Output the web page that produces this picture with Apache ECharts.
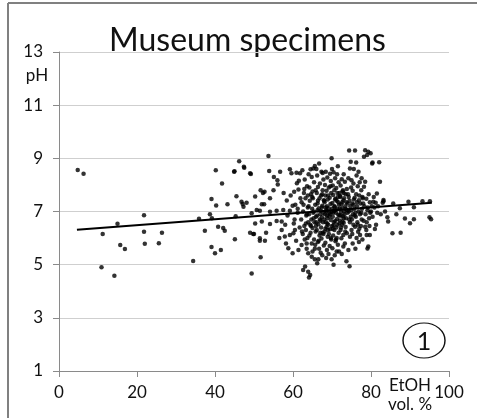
<!DOCTYPE html>
<html>
<head>
<meta charset="utf-8">
<script src="https://cdn.jsdelivr.net/npm/echarts@6/dist/echarts.min.js"></script>
<style>html,body{margin:0;padding:0;background:#fff;}#c{width:477px;height:418px;}</style>
</head>
<body>
<div id="c"></div>
<script>
// EtOH vol. % (x) and pH (y) of museum specimens
const specimens = [
[4.8,8.56],[6.3,8.42],[11.2,6.15],[10.9,4.9],[14.2,4.58],[15.0,6.54],[15.7,5.74],[16.9,5.59],[21.8,6.86],[21.8,6.24],[22.0,5.79],[25.6,5.81],[26.4,6.2],[34.4,5.14],[35.9,6.73],[37.4,6.28],[38.7,6.9],[39.2,6.75],[39.1,7.47],[40.3,7.23],[40.2,8.55],[41.8,8.05],[40.8,6.43],[42.1,6.38],[42.5,6.28],[39.1,5.66],[40.0,5.43],[41.5,5.55],[43.2,7.27],[45.0,8.51],[45.5,7.57],[45.3,6.82],[45.1,5.96],[46.2,8.89],
[47.5,8.65],[49.2,8.41],[53.7,9.09],[53.9,8.52],[55.1,8.3],[56.0,8.18],[56.1,8.02],[51.7,7.8],[52.7,7.74],[52.3,7.7],[50.3,7.56],[48.1,7.33],[47.1,7.28],[52.0,7.27],[52.6,7.27],[54.1,7.5],[57.5,7.06],[50.7,7.06],[51.5,7.03],[54.1,6.99],[55.8,7.03],
[50.3,6.55],[52.0,6.62],[54.1,6.53],[55.8,6.64],[57.1,6.62],[49.0,6.2],[50.0,6.15],[53.1,6.2],[51.5,5.9],[52.8,5.9],[51.7,5.28],[49.4,4.67],[44.9,8.5],[47.4,8.68],[49.0,8.44],[46.8,7.37],[47.3,7.18],[49.4,6.93],[49.8,6.15],[51.5,5.99],
[58.4,7.41],[59.9,7.22],[57.1,6.3],[57.9,6.06],[59.2,6.12],[58.8,5.62],[59.9,5.43],[59.2,8.59],[59.6,8.44],[59.2,7.03],[58.6,6.85],[59.4,7.6],
[60.9,8.46],[61.8,8.44],[61.5,8.16],[61.0,8.06],[60.3,7.74],[61.4,7.83],[60.6,7.25],[61.2,6.95],[60.4,6.7],[61.7,6.4],[60.1,6.18],[61.4,5.55],[60.8,5.9],[61.9,7.5],[60.2,6.55],
[62.4,8.55],[63.6,7.95],[62.8,7.7],[63.2,7.5],[62.2,7.35],[63.8,7.15],[62.6,7.0],[63.4,6.85],[62.1,6.7],[63.9,6.6],[62.9,6.45],[63.3,6.3],[62.5,6.15],[63.7,6.0],[63.5,5.8],[62.2,5.74],[63.9,5.43],[62.6,4.8],[63.1,4.93],[63.9,4.73],[62.9,7.85],[63.6,6.9],[62.3,6.25],[63.0,5.95],[63.8,7.6],
[65.6,8.71],[64.5,8.59],[65.2,8.62],[64.8,8.3],[65.4,8.1],[64.2,7.9],[65.8,7.8],[64.6,7.65],[65.1,7.5],[64.3,7.4],[65.7,7.25],[64.9,7.1],[65.3,7.0],[64.1,6.9],[65.9,6.8],[64.7,6.7],[65.5,6.6],[64.4,6.5],[65.0,6.38],[65.8,6.25],[64.2,6.1],[65.4,5.95],[64.8,5.8],[65.6,5.6],[64.8,5.3],[65.6,5.2],[64.4,4.61],[64.1,4.52],[64.9,7.55],[65.2,6.95],[64.6,6.45],[65.7,5.75],
[66.7,8.81],[67.3,8.5],[66.2,8.35],[67.8,8.2],[66.9,8.05],[66.4,7.92],[67.6,7.8],[66.1,7.7],[67.2,7.6],[66.8,7.5],[67.9,7.42],[66.3,7.3],[67.5,7.22],[66.6,7.12],[67.1,7.03],[67.8,6.95],[66.2,6.85],[67.4,6.78],[66.9,6.7],[67.7,6.6],[66.5,6.52],[67.2,6.4],[66.1,6.3],[67.6,6.2],[66.8,6.1],[67.3,5.98],[66.4,5.85],[67.9,5.72],[66.7,5.6],[67.1,5.45],[66.5,5.2],[67.5,7.65],[66.3,7.05],[67.0,6.65],[67.8,6.15],[66.6,5.9],
[69.9,9.0],[68.4,8.5],[69.5,8.42],[68.8,8.28],[69.7,8.15],[68.2,8.0],[69.2,7.9],[68.6,7.78],[69.8,7.7],[68.3,7.6],[69.4,7.52],[68.9,7.45],[68.1,7.35],[69.6,7.28],[68.7,7.2],[69.1,7.12],[68.5,7.05],[69.9,6.98],[68.2,6.9],[69.3,6.82],[68.8,6.75],[69.7,6.68],[68.4,6.6],[69.0,6.5],[68.6,6.42],[69.5,6.33],[68.1,6.25],[69.2,6.15],[68.9,6.05],[69.8,5.95],[68.3,5.82],[69.4,5.7],[68.7,5.55],[69.1,5.4],[68.5,5.25],[69.6,7.95],[68.0,7.4],[69.3,6.95],[68.8,6.55],[69.7,6.0],[68.4,7.15],
[70.4,8.48],[71.3,8.4],[70.8,8.25],[71.7,8.1],[70.2,7.98],[71.1,7.88],[70.6,7.8],[71.9,7.7],[70.3,7.62],[71.5,7.55],[70.9,7.48],[71.2,7.4],[70.1,7.32],[71.8,7.25],[70.7,7.18],[71.4,7.1],[70.5,7.02],[71.0,6.95],[71.6,6.88],[70.2,6.8],[71.3,6.72],[70.8,6.64],[71.9,6.55],[70.4,6.48],[71.1,6.4],[70.6,6.3],[71.7,6.2],[70.3,6.1],[71.2,6.0],[70.9,5.88],[71.5,5.75],[70.1,5.62],[71.8,5.5],[70.7,5.35],[71.4,7.7],[70.6,7.2],[71.9,6.85],[70.2,6.35],[71.0,5.95],[70.8,7.45],
[72.5,8.21],[73.3,8.12],[72.2,7.98],[73.8,7.85],[72.7,7.75],[73.5,7.65],[72.1,7.58],[73.1,7.5],[72.9,7.42],[73.7,7.35],[72.4,7.27],[73.4,7.2],[72.6,7.12],[73.9,7.05],[72.3,6.98],[73.2,6.9],[72.8,6.82],[73.6,6.75],[72.0,6.66],[73.0,6.58],[72.6,6.5],[73.5,6.42],[72.2,6.3],[72.9,6.12],[73.8,6.18],[72.4,5.99],[72.9,5.68],[73.3,5.8],[73.7,5.13],[72.1,7.55],[73.1,7.0],[72.7,6.62],[73.4,6.25],[72.8,7.8],
[74.4,9.29],[75.9,9.29],[74.8,8.87],[76.2,8.84],[74.6,8.62],[75.6,8.6],[74.2,8.25],[75.0,8.18],[75.5,8.05],[74.9,7.9],[75.3,7.78],[74.1,7.65],[75.8,7.52],[74.5,7.4],[75.2,7.3],[74.7,7.2],[75.7,7.1],[74.3,7.0],[75.4,6.9],[74.8,6.8],[75.1,6.7],[74.6,6.6],[75.9,6.43],[75.0,6.3],[74.6,6.05],[74.2,5.55],[75.3,5.8],[74.5,4.94],[75.6,7.45],[74.0,6.95],[75.5,6.5],
[76.3,8.35],[77.1,8.1],[76.6,7.95],[77.5,7.8],[76.2,7.65],[77.8,7.55],[76.9,7.42],[77.3,7.3],[76.4,7.2],[77.7,7.1],[76.8,7.0],[77.2,6.9],[76.1,6.8],[77.6,6.7],[76.5,6.6],[77.4,6.45],[76.7,6.24],[77.2,6.12],[76.9,5.85],[77.9,7.5],[76.0,6.95],[77.0,6.35],
[78.5,9.3],[79.3,9.25],[79.9,9.19],[79.0,9.13],[78.2,9.06],[78.5,8.12],[78.2,7.93],[79.4,7.65],[78.8,7.48],[79.7,7.35],[78.3,7.2],[79.1,7.05],[78.6,6.9],[79.5,6.75],[78.9,6.6],[78.5,6.43],[78.9,6.12],[79.7,6.12],[79.3,5.68],[79.1,5.61],[79.8,6.95],
[80.3,8.81],[82.1,8.85],[81.5,7.68],[80.6,7.37],[81.2,7.33],[80.9,7.15],[81.6,6.95],[80.4,6.8],[81.3,6.5],[81.0,6.34],[80.7,7.55],[80.4,8.84],
[82.3,8.12],[83.2,7.39],[83.0,7.33],[83.2,7.43],[84.2,6.78],[84.4,6.62],[82.5,6.9],[83.6,7.0],
[85.5,6.18],[87.6,6.2],[87.4,7.12],[88.7,6.74],[89.6,7.37],[90.0,6.56],[91.0,7.16],[91.0,6.71],[93.2,7.39],[95.1,7.39],[95.0,6.78],[95.4,6.71],[85.7,7.3],[86.5,6.9],
[62.7,7.25],[63.3,6.55],[64.0,7.2],[64.5,6.2],[65.3,6.75],[65.0,7.75],[66.0,6.6],[66.4,7.4],[67.0,6.9],[67.4,7.15],[67.0,6.2],[68.0,6.7],[68.6,7.0],[68.3,6.35],[69.0,7.6],[69.5,6.9],[69.0,6.3],[70.0,7.1],[70.5,6.6],[70.0,6.45],[70.9,7.05],[71.4,6.5],[71.6,7.35],[72.0,7.1],[72.3,6.4],[72.6,7.35],[73.0,6.75],[73.5,7.1],[73.0,7.7],[74.0,7.3],[74.4,6.7],[74.9,7.05],[75.2,6.15],[75.8,6.85],[76.4,7.35],[76.6,6.5],[77.0,7.6],[77.5,6.95],[78.0,7.3],[78.1,6.65],[79.2,7.15],[79.6,6.45],[80.0,7.0],[80.2,7.2],[81.8,7.2],
[63.0,8.2],[64.0,8.4],[66.0,8.6],[67.6,8.45],[70.0,8.6],[71.5,8.7],[73.0,8.4],[76.8,8.5],[77.6,8.25],[63.5,5.6],[65.0,5.5],[66.2,5.05],[67.5,5.35],[69.9,5.2],[70.4,5.0],[71.2,5.5],[72.5,5.4],[76.0,5.6],[77.8,5.95],[65.9,6.45],[68.7,6.85],[70.3,6.95],[72.2,6.85],[74.3,7.55],[75.5,7.25],[76.3,6.0],[78.8,6.3],[61.2,7.1],[60.5,6.3],[58.0,6.5],[57.6,7.7],[56.7,8.5],[55.0,7.8],[56.5,6.0],[58.2,5.8]
];
// linear trend line end points
const trendX = [4.6, 95.6];
const trendY = [6.31, 7.33];
// axis ticks
const xTicks = [0, 20, 40, 60, 80, 100];
const yTicks = [1, 3, 5, 7, 9, 11, 13];

const chart = echarts.init(document.getElementById('c'), null, {renderer: 'canvas'});
const FONT = 'Lato, "Open Sans", sans-serif';
const axisGray = '#8a8a8a';
chart.setOption({
  animation: false,
  backgroundColor: '#fff',
  grid: {left: 59, right: 28, top: 52, bottom: 47},
  xAxis: {
    type: 'value', min: xTicks[0], max: xTicks[xTicks.length - 1], interval: xTicks[1] - xTicks[0],
    axisLine: {show: true, lineStyle: {color: axisGray, width: 1}},
    axisTick: {show: true, length: 6, lineStyle: {color: axisGray}},
    splitLine: {show: false},
    axisLabel: {color: '#111', fontSize: 17, fontFamily: FONT, margin: 13}
  },
  yAxis: {
    type: 'value', min: yTicks[0], max: yTicks[yTicks.length - 1], interval: yTicks[1] - yTicks[0],
    axisLine: {show: true, lineStyle: {color: axisGray, width: 1}},
    axisTick: {show: true, length: 6, lineStyle: {color: axisGray}},
    splitLine: {show: true, lineStyle: {color: '#cfcfcf', width: 1}},
    axisLabel: {color: '#111', fontSize: 17, fontFamily: FONT, margin: 16}
  },
  series: [
    {type: 'scatter', data: specimens, symbol: 'circle', symbolSize: 4.5, itemStyle: {color: '#000'}, z: 3},
    {type: 'line', data: trendX.map((x, i) => [x, trendY[i]]), showSymbol: false, lineStyle: {color: '#000', width: 2}, z: 4}
  ],
  graphic: [
    {type: 'line', shape: {x1: 8, y1: 3, x2: 8, y2: 418}, style: {stroke: '#808080', lineWidth: 2}},
    {type: 'line', shape: {x1: 8, y1: 3, x2: 477, y2: 3}, style: {stroke: '#808080', lineWidth: 2}},
    {type: 'text', x: 247.5, y: 41, style: {text: 'Museum specimens', font: '32px ' + FONT, fill: '#111', textAlign: 'center', textVerticalAlign: 'middle'}},
    {type: 'text', x: 37, y: 76, style: {text: 'pH', font: '17px ' + FONT, fill: '#111', textAlign: 'center', textVerticalAlign: 'middle'}},
    {type: 'text', x: 410, y: 386, style: {text: 'EtOH', font: '17px ' + FONT, fill: '#111', textAlign: 'center', textVerticalAlign: 'middle'}},
    {type: 'text', x: 410, y: 405, style: {text: 'vol. %', font: '17px ' + FONT, fill: '#111', textAlign: 'center', textVerticalAlign: 'middle'}},
    {type: 'circle', x: 424, y: 340.5, scaleX: 1.2, shape: {cx: 0, cy: 0, r: 17.5}, style: {fill: '#fff', stroke: '#111', lineWidth: 1.2, strokeNoScale: true}, z: 10},
    {type: 'text', x: 424, y: 342, style: {text: '1', font: '25px ' + FONT, fill: '#111', textAlign: 'center', textVerticalAlign: 'middle'}, z: 11}
  ]
});
</script>
</body>
</html>
